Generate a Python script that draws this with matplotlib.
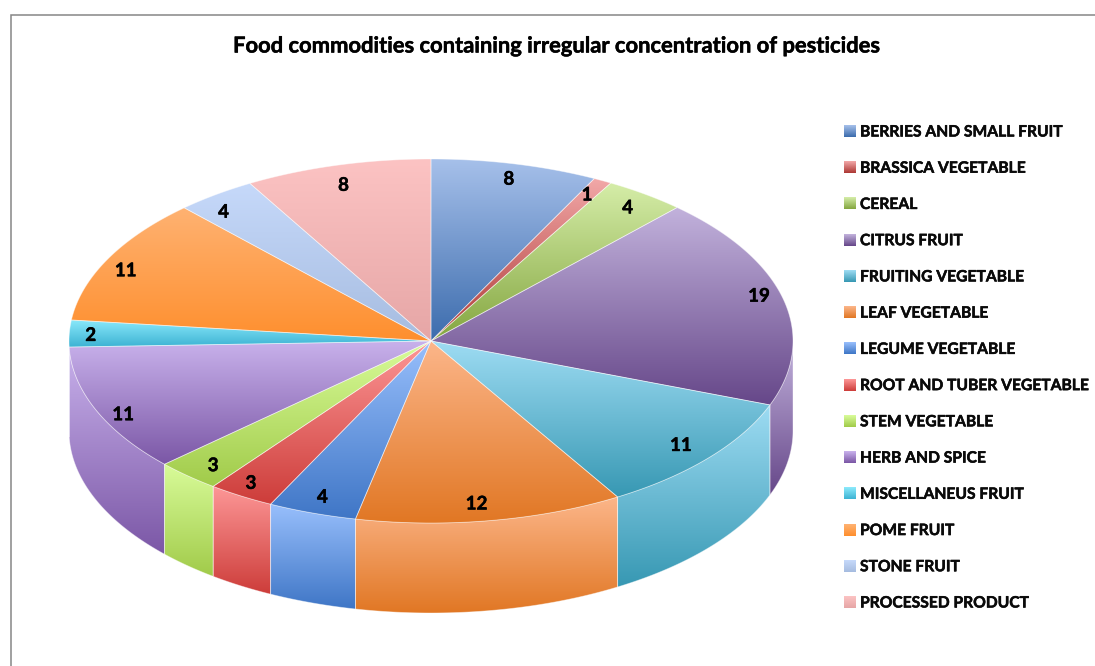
import numpy as np
import matplotlib
matplotlib.use("Agg")
import matplotlib.pyplot as plt
import matplotlib.patheffects as pe
from matplotlib.colors import LinearSegmentedColormap
from matplotlib.path import Path
from matplotlib.patches import PathPatch

TITLE = "Food commodities containing irregular concentration of pesticides"
categories = ["BERRIES AND SMALL FRUIT", "BRASSICA VEGETABLE", "CEREAL", "CITRUS FRUIT",
              "FRUITING VEGETABLE", "LEAF VEGETABLE", "LEGUME VEGETABLE",
              "ROOT AND TUBER VEGETABLE", "STEM VEGETABLE", "HERB AND SPICE",
              "MISCELLANEUS FRUIT", "POME FRUIT", "STONE FRUIT", "PROCESSED PRODUCT"]
values = [8, 1, 4, 19, 11, 12, 4, 3, 3, 11, 2, 11, 4, 8]

light = ["#a6c0ea", "#f2a8a8", "#d5eda8", "#c2b2dc", "#9edcf3", "#fcb68a", "#98bffc",
         "#fd9797", "#d9fc9a", "#c9b2ec", "#8ceafc", "#ffb272", "#c6d9fa", "#fcc3c3"]
dark = ["#3c6cad", "#ad3835", "#84a640", "#664789", "#3798b3", "#e17724", "#3f76c6",
        "#cd3d3a", "#a1cb4a", "#7b57a6", "#3db3d3", "#fe8f2e", "#a6bce0", "#e6a6a6"]

# Correction (degrees) for the chart's 3D perspective at each cumulative slice boundary
perspective = [0, -1.7, -2.3, -3.5, -3.5, -4.3, -4.0, -4.0, -4.0, -4.3, -2.8, -1.4, -0.2, -1.5, 0]
# Data label placement nudges (px) from the default inside-rim position
nudge_x = [4, 5, 8, 18, 5, -7, -4, -13, -4, -13, -22, -21, -18, -5]
nudge_y = [-6, -5, -4, -8, 2, 5, 5, 6, 6, 13, 1, 2, 0, -1]

W, H = 1095, 666
CX, CY, RX, RY, DEPTH = 431, 341, 362, 182, 90
FONT = "Lato"
BORDER = "#868686"
HEAVY = [pe.withStroke(linewidth=0.35, foreground="black")]

fig = plt.figure(figsize=(W / 100, H / 100), dpi=100, facecolor="white")
ax = fig.add_axes([0, 0, 1, 1])
ax.set_axis_off()

vals = np.array(values, dtype=float)
nominal = np.concatenate([[0], np.cumsum(vals)]) / vals.sum() * 360
warped = nominal + np.array(perspective)


def rim(theta, dy=0.0):
    t = np.radians(theta)
    return np.column_stack([CX + RX * np.sin(t), CY - RY * np.cos(t) + dy])


def gradient_fill(verts, c0, c1, z):
    verts = np.asarray(verts)
    x0, x1 = verts[:, 0].min(), verts[:, 0].max()
    y0, y1 = verts[:, 1].min(), verts[:, 1].max()
    codes = [Path.MOVETO] + [Path.LINETO] * (len(verts) - 2) + [Path.CLOSEPOLY]
    patch = PathPatch(Path(verts, codes), transform=ax.transData, fc="none", ec="none")
    ax.add_patch(patch)
    cmap = LinearSegmentedColormap.from_list("g", [c0, c1])
    im = ax.imshow(np.linspace(0, 1, 256)[:, None], cmap=cmap, aspect="auto",
                   extent=(x0 - 1, x1 + 1, y1, y0), zorder=z, interpolation="bilinear")
    im.set_clip_path(patch)
    ax.add_patch(PathPatch(Path(verts, codes), fc="none", ec=(1, 1, 1, 0.45), lw=0.6, zorder=z + 0.5))


# side walls: only the front half of the rim is visible
order = sorted(range(len(vals)), key=lambda k: abs((warped[k] + warped[k + 1]) / 2 - 180), reverse=True)
for i in order:
    a = max(warped[i], 90)
    b = min(warped[i + 1], 270)
    if b <= a:
        continue
    th = np.linspace(a, b, 120)
    verts = np.vstack([rim(th), rim(th[::-1], DEPTH), rim(th[:1])])
    gradient_fill(verts, light[i], dark[i], 2)

# top faces
for i in range(len(vals)):
    th = np.linspace(warped[i], warped[i + 1], 160)
    verts = np.vstack([[[CX, CY]], rim(th), [[CX, CY]]])
    gradient_fill(verts, light[i], dark[i], 3)

# data labels
for i, v in enumerate(values):
    mid = (warped[i] + warped[i + 1]) / 2
    t = np.radians(mid)
    x = CX + 0.88 * RX * np.sin(t) + nudge_x[i]
    y = CY - 0.88 * RY * np.cos(t) + nudge_y[i]
    ax.text(x, y, str(v), ha="center", va="center", fontsize=13.5, fontweight="bold",
            family=FONT, color="black", zorder=6, path_effects=HEAVY)

# legend
for i, name in enumerate(categories):
    y = 131 + i * (602 - 131) / 13
    cmap = LinearSegmentedColormap.from_list("l", [light[i], dark[i]])
    ax.imshow(np.linspace(0, 1, 32)[:, None], cmap=cmap, aspect="auto",
              extent=(844, 856, y + 6, y - 6), zorder=3)
    ax.text(860, y + 1.5, name, ha="left", va="center", fontsize=11.25, fontweight="bold",
            family=FONT, color="#0a0a0a", zorder=6, path_effects=HEAVY)

ax.text(557.5, 46, TITLE, ha="center", va="center", fontsize=15.8, fontweight="bold",
        family=FONT, color="black", zorder=6, path_effects=HEAVY)

# chart border (left and top edges show in the crop)
ax.plot([10.5, 10.5, W], [H, 14.5, 14.5], color=BORDER, lw=1.1, zorder=7, solid_joinstyle="miter")

ax.set_xlim(0, W)
ax.set_ylim(H, 0)
fig.savefig("out.png", dpi=100, facecolor="white")
